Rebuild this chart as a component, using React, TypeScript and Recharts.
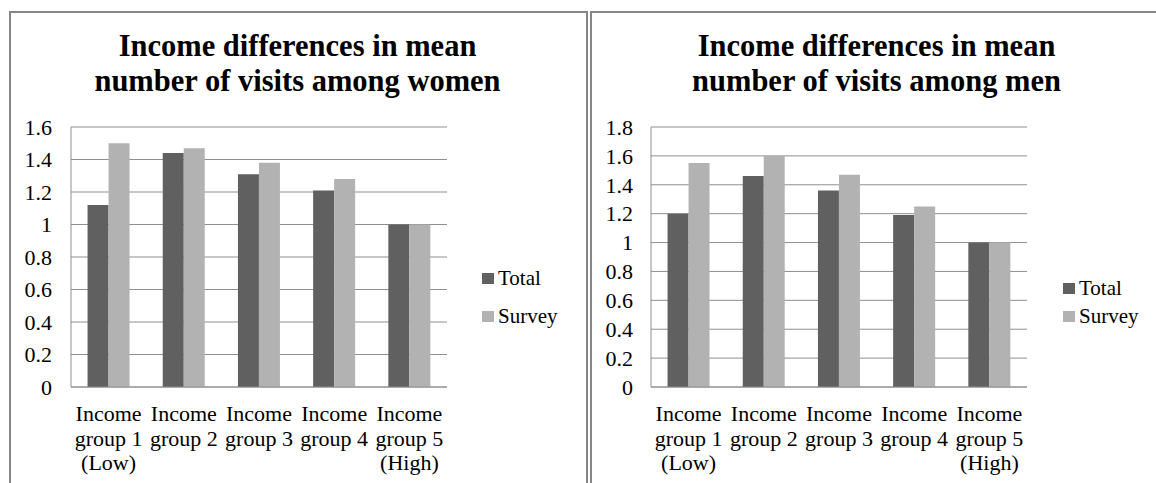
import { BarChart, Bar, XAxis, YAxis, CartesianGrid, Legend } from 'recharts';

const FONT = '"Liberation Serif", "Times New Roman", serif';
const LINE = '#8f8f8f';

const categories = [
  'Income group 1 (Low)',
  'Income group 2',
  'Income group 3',
  'Income group 4',
  'Income group 5 (High)',
];

const womenTitle = ['Income differences in mean', 'number of visits among women'];
const womenTotal = [1.12, 1.44, 1.31, 1.21, 1.0];
const womenSurvey = [1.5, 1.47, 1.38, 1.28, 1.0];
const womenTicks = [0, 0.2, 0.4, 0.6, 0.8, 1, 1.2, 1.4, 1.6];

const menTitle = ['Income differences in mean', 'number of visits among men'];
const menTotal = [1.2, 1.46, 1.36, 1.19, 1.0];
const menSurvey = [1.55, 1.6, 1.47, 1.25, 1.0];
const menTicks = [0, 0.2, 0.4, 0.6, 0.8, 1, 1.2, 1.4, 1.6, 1.8];

const seriesNames = ['Total', 'Survey'];
const seriesColors = ['#606060', '#b2b2b2'];

// category names break after "Income" and after the group number
const GroupTick = ({ x, y, payload }: any) => {
  const words = String(payload.value).split(' ');
  const lines = [words[0], words.slice(1, 3).join(' '), words.slice(3).join(' ')].filter(Boolean);
  return (
    <text x={x} y={y} textAnchor="middle" fontFamily={FONT} fontSize={22} fill="#000">
      {lines.map((l, i) => (
        <tspan key={i} x={x} dy={i === 0 ? 34 : 24.5}>
          {l}
        </tspan>
      ))}
    </text>
  );
};

// keep series order (Total above Survey) instead of the default alphabetical sort
const legendContent = (rowGap: number) => (props: any) => {
  const items = [...(props.payload || [])].sort(
    (a: any, b: any) => seriesNames.indexOf(a.value) - seriesNames.indexOf(b.value),
  );
  return (
    <div style={{ fontFamily: FONT, fontSize: 21, color: '#000' }}>
      {items.map((entry: any) => (
        <div
          key={entry.value}
          style={{ display: 'flex', alignItems: 'flex-start', height: 24, lineHeight: '24px', marginBottom: rowGap }}
        >
          <span style={{ width: 12, height: 11, marginTop: 7, marginRight: 4, background: entry.color }} />
          <span>{entry.value}</span>
        </div>
      ))}
    </div>
  );
};

interface PanelProps {
  left: number;
  title: string[];
  total: number[];
  survey: number[];
  ticks: number[];
  axisWidth: number;
  titleWidth: number;
  legendTop: number;
  legendGap: number;
}

function Panel({ left, title, total, survey, ticks, axisWidth, titleWidth, legendTop, legendGap }: PanelProps) {
  const data = categories.map((name, i) => ({ name, total: total[i], survey: survey[i] }));
  return (
    <div style={{ position: 'absolute', left, top: 12, width: 577, height: 471 }}>
      <div
        style={{
          position: 'absolute',
          top: 17,
          left: 0,
          width: titleWidth,
          textAlign: 'center',
          fontFamily: FONT,
          fontWeight: 'bold',
          fontSize: 30.5,
          lineHeight: '35px',
          whiteSpace: 'nowrap',
        }}
      >
        {title.map((t) => (
          <div key={t}>{t}</div>
        ))}
      </div>
      <BarChart
        width={577}
        height={471}
        data={data}
        margin={{ top: 115, right: 201 - axisWidth, bottom: 6, left: 0 }}
        barCategoryGap="22%"
        barGap={0}
      >
        <CartesianGrid vertical={false} stroke={LINE} />
        <XAxis
          dataKey="name"
          height={90}
          interval={0}
          tickLine={false}
          tickSize={0}
          tickMargin={0}
          axisLine={{ stroke: LINE }}
          tick={<GroupTick />}
        />
        <YAxis
          width={axisWidth}
          domain={[0, ticks[ticks.length - 1]]}
          ticks={ticks}
          interval={0}
          tickFormatter={(v) => String(v)}
          tickLine={false}
          tickSize={0}
          tickMargin={axisWidth - 42}
          axisLine={{ stroke: LINE }}
          tick={{ fill: '#000', fontSize: 22, fontFamily: FONT }}
        />
        <Legend
          layout="vertical"
          align="center"
          verticalAlign="middle"
          wrapperStyle={{ left: 472, top: legendTop, width: 100 }}
          content={legendContent(legendGap)}
        />
        <Bar dataKey="total" name={seriesNames[0]} fill={seriesColors[0]} isAnimationActive={false} />
        <Bar dataKey="survey" name={seriesNames[1]} fill={seriesColors[1]} isAnimationActive={false} />
      </BarChart>
    </div>
  );
}

export default function App() {
  return (
    <div
      style={{
        position: 'absolute',
        left: 0,
        top: 0,
        width: 1156,
        height: 483,
        overflow: 'hidden',
        background: '#fff',
      }}
    >
      <div style={{ position: 'absolute', left: 9, top: 11, width: 575, height: 500, border: '2px solid #868686' }} />
      <div style={{ position: 'absolute', left: 590, top: 11, width: 600, height: 500, border: '2px solid #868686' }} />
      <Panel
        left={10}
        title={womenTitle}
        total={womenTotal}
        survey={womenSurvey}
        ticks={womenTicks}
        axisWidth={61}
        titleWidth={575}
        legendTop={254}
        legendGap={14}
      />
      <Panel
        left={591}
        title={menTitle}
        total={menTotal}
        survey={menSurvey}
        ticks={menTicks}
        axisWidth={60}
        titleWidth={571}
        legendTop={264}
        legendGap={4}
      />
    </div>
  );
}
